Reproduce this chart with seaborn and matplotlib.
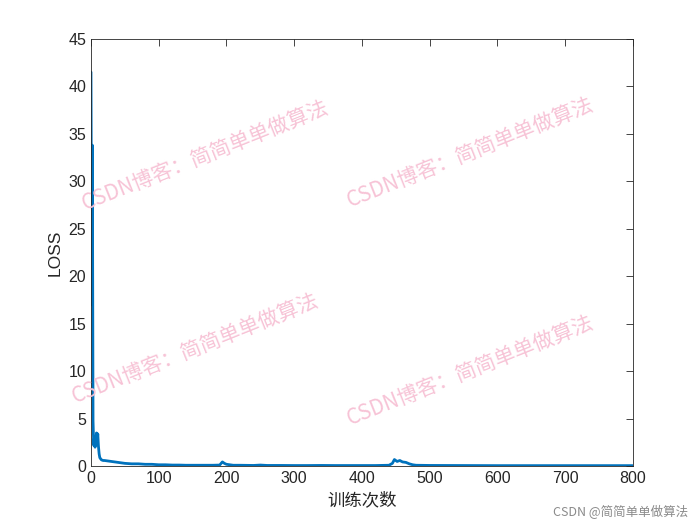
import seaborn as sns
import pandas as pd
import matplotlib.pyplot as plt

# training loss
steps = [0, 1, 2, 3, 4, 5, 6, 7, 8, 9, 10, 11, 12, 13, 14, 15, 16, 18, 20, 25,
         30, 35, 40, 45, 50, 60, 70, 80, 90, 100, 110, 120, 130, 140, 150, 160,
         170, 180, 190, 194, 197, 200, 205, 210, 220, 240, 250, 260, 280, 300,
         320, 340, 360, 380, 400, 420, 440, 445, 448, 452, 456, 460, 465, 470,
         475, 480, 500, 550, 600, 650, 700, 750, 800]
loss = [41.5, 17.0, 33.8, 4.8, 2.2, 3.0, 2.0, 2.6, 3.5, 2.4, 3.4, 2.1, 1.3, 0.9,
        0.8, 0.7, 0.65, 0.6, 0.6, 0.55, 0.5, 0.45, 0.4, 0.35, 0.3, 0.25, 0.25,
        0.2, 0.2, 0.15, 0.15, 0.12, 0.12, 0.1, 0.1, 0.1, 0.1, 0.1, 0.12, 0.45,
        0.3, 0.2, 0.15, 0.1, 0.1, 0.08, 0.12, 0.08, 0.08, 0.07, 0.07, 0.08,
        0.07, 0.07, 0.07, 0.07, 0.1, 0.3, 0.7, 0.5, 0.6, 0.45, 0.4, 0.25, 0.15,
        0.1, 0.08, 0.07, 0.06, 0.06, 0.06, 0.06, 0.06]

xticks = [0, 100, 200, 300, 400, 500, 600, 700, 800]
yticks = [0, 5, 10, 15, 20, 25, 30, 35, 40, 45]

df = pd.DataFrame({'step': steps, 'loss': loss})

sns.set_style("white")
plt.rcParams['font.family'] = ['Liberation Sans', 'Noto Sans CJK SC', 'DejaVu Sans']

fig = plt.figure(figsize=(7, 5.25), dpi=100)
ax = fig.add_axes([0.13, 0.112, 0.774, 0.814])
sns.lineplot(x='step', y='loss', data=df, ax=ax, color='#0072BD', linewidth=2.0)

ax.set_xlim(0, 800)
ax.set_ylim(0, 45)
ax.set_xticks(xticks)
ax.set_yticks(yticks)
ax.tick_params(direction='in', top=True, right=True, length=5, width=0.6,
               labelsize=11.5, colors='#262626')
for s in ax.spines.values():
    s.set_color('#262626')
    s.set_linewidth(0.6)
ax.set_xlabel('训练次数', fontsize=12.5, color='#262626',
              family=['Noto Sans CJK SC', 'DejaVu Sans'])
ax.set_ylabel('LOSS', fontsize=12.5, color='#262626')

# watermarks
wm = 'CSDN博客：简简单单做算法'
for (px, py) in [(205, 155), (470, 152), (195, 348), (470, 370)]:
    fig.text(px / 700, 1 - py / 525, wm, rotation=21.8, ha='center', va='center',
             fontsize=15, color='#f7c3d6', fontweight='light',
             family=['Noto Sans CJK SC', 'DejaVu Sans'])

fig.text(688 / 700, 1 - 512 / 525, 'CSDN @简简单单做算法', ha='right', va='center',
         fontsize=9, color='#8a8a8a', family=['Noto Sans CJK SC', 'DejaVu Sans'])

fig.savefig('out.png', dpi=100)
